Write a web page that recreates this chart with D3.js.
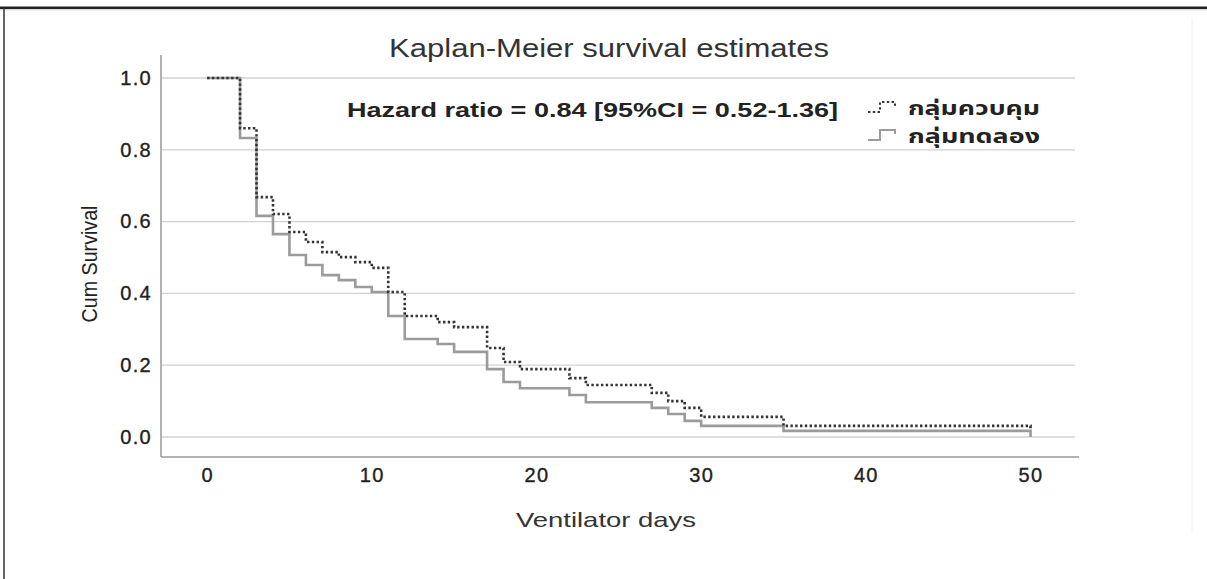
<!DOCTYPE html>
<html>
<head>
<meta charset="utf-8">
<script src="https://cdn.jsdelivr.net/npm/d3@7/dist/d3.min.js"></script>
<style>
  html, body { margin: 0; padding: 0; background: #fff; }
  svg { display: block; }
</style>
</head>
<body>
<svg id="chart" width="1207" height="579"></svg>
<script>
// ---- data ----
const controlTimes = [0, 2, 3, 4, 5, 6, 7, 8, 9, 10, 11, 12, 14, 15, 17, 18, 19, 22, 23, 27, 28, 29, 30, 35, 50];
const controlSurv  = [1.0, 0.86, 0.668, 0.621, 0.571, 0.543, 0.515, 0.501, 0.487, 0.471, 0.404, 0.337, 0.32, 0.306, 0.248, 0.209, 0.189, 0.164, 0.145, 0.123, 0.100, 0.081, 0.056, 0.031, 0.019];
const treatTimes   = [0, 2, 3, 4, 5, 6, 7, 8, 9, 10, 11, 12, 14, 15, 17, 18, 19, 22, 23, 27, 28, 29, 30, 35, 50];
const treatSurv    = [1.0, 0.833, 0.616, 0.565, 0.507, 0.479, 0.451, 0.437, 0.418, 0.404, 0.337, 0.273, 0.259, 0.237, 0.189, 0.153, 0.136, 0.117, 0.097, 0.081, 0.064, 0.045, 0.031, 0.017, 0.0];
const xTicks = [0, 10, 20, 30, 40, 50];
const yTicks = [0.0, 0.2, 0.4, 0.6, 0.8, 1.0];
const seriesNames = ["กลุ่มควบคุม", "กลุ่มทดลอง"];
const titleText = "Kaplan-Meier survival estimates";
const hazardText = "Hazard ratio = 0.84 [95%CI = 0.52-1.36]";
const xLabel = "Ventilator days";
const yLabel = "Cum Survival";

// ---- layout ----
const svg = d3.select("#chart");
const plot = { left: 161, right: 1075, top: 55, bottom: 457 };
const x = d3.scaleLinear().domain([-2.8, 52.7]).range([plot.left, plot.right]);
const y = d3.scaleLinear().domain([-0.0557, 1.064]).range([plot.bottom, plot.top]);
const fontMain = "'Liberation Sans', Arial, Helvetica, sans-serif";
const fontThai = "'Noto Sans Thai', 'Noto Sans', 'DejaVu Sans', sans-serif";

// page borders
svg.append("rect").attr("x", 0).attr("y", 6.5).attr("width", 1207).attr("height", 2.5).attr("fill", "#222");
svg.append("line").attr("x1", 0).attr("x2", 1207).attr("y1", 9.8).attr("y2", 9.8).attr("stroke", "#ccc").attr("stroke-width", 1);
svg.append("line").attr("x1", 4).attr("x2", 4).attr("y1", 8).attr("y2", 579).attr("stroke", "#333").attr("stroke-width", 1.5);
svg.append("line").attr("x1", 1192).attr("x2", 1192).attr("y1", 18).attr("y2", 532).attr("stroke", "#f0f0f0").attr("stroke-width", 1);

// gridlines
svg.append("g").selectAll("line").data(yTicks).join("line")
  .attr("x1", plot.left).attr("x2", plot.right)
  .attr("y1", d => y(d)).attr("y2", d => y(d))
  .attr("stroke", "#d2d2d2").attr("stroke-width", 1.3);

// axes (via d3 axis generators, domain lines only)
const yAxis = d3.axisLeft(y).tickValues(yTicks).tickSize(0).tickPadding(8).tickFormat(d3.format(".1f"));
const xAxis = d3.axisBottom(x).tickValues(xTicks).tickSize(0).tickPadding(11).tickFormat(d3.format("d"));
const gy = svg.append("g").attr("transform", `translate(${plot.left},0)`).call(yAxis);
const gx = svg.append("g").attr("transform", `translate(0,${plot.bottom})`).call(xAxis);
[gx, gy].forEach(g => {
  g.attr("font-size", null).attr("font-family", null);
  g.select(".domain").attr("stroke", "#999").attr("stroke-width", 1.5);
  g.selectAll("text")
    .style("font-family", fontMain).style("font-size", "20px").style("letter-spacing", "1.3px")
    .attr("fill", "#222").attr("stroke", "#222").attr("stroke-width", 0.35);
});
gy.selectAll("text").attr("dx", -1);
// extend axes lines to corner
gy.select(".domain").attr("d", `M0,${plot.top}V${plot.bottom}`);
gx.select(".domain").attr("d", `M${plot.left},0H${plot.right + 4}`);

// curves
const line = d3.line().x(d => x(d[0])).y(d => y(d[1])).curve(d3.curveStepAfter);
const treatData = treatTimes.map((t, i) => [t, treatSurv[i]]);
const controlData = controlTimes.map((t, i) => [t, controlSurv[i]]);
svg.append("path").datum(treatData).attr("d", line)
  .attr("fill", "none").attr("stroke", "#9b9b9b").attr("stroke-width", 2.6);
svg.append("path").datum(controlData).attr("d", line)
  .attr("fill", "none").attr("stroke", "#333").attr("stroke-width", 2.6)
  .attr("stroke-dasharray", "2.4,2.4");

// title
svg.append("text").attr("x", 609).attr("y", 57).attr("text-anchor", "middle")
  .attr("font-family", "'Liberation Sans Narrow', " + fontMain).attr("font-size", 25).attr("fill", "#333")
  .attr("textLength", 440).attr("lengthAdjust", "spacingAndGlyphs").text(titleText);

// hazard annotation
svg.append("text").attr("x", 347).attr("y", 117)
  .attr("font-family", fontMain).attr("font-size", 19.5).attr("font-weight", "bold").attr("fill", "#222")
  .attr("textLength", 491).attr("lengthAdjust", "spacingAndGlyphs").text(hazardText);

// axis labels
svg.append("text").attr("x", 606).attr("y", 527).attr("text-anchor", "middle")
  .attr("font-family", fontMain).attr("font-size", 21).attr("fill", "#333")
  .attr("textLength", 180).attr("lengthAdjust", "spacingAndGlyphs").text(xLabel);
svg.append("text").attr("transform", "translate(97,264) rotate(-90)").attr("text-anchor", "middle")
  .attr("font-family", "'Liberation Sans Narrow', " + fontMain).attr("font-size", 22).attr("fill", "#222")
  .attr("textLength", 117).attr("lengthAdjust", "spacingAndGlyphs").text(yLabel);

// legend
const legend = svg.append("g");
const legendRows = [
  { name: seriesNames[0], stroke: "#333", dash: "2.4,2.4", yc: 107 },
  { name: seriesNames[1], stroke: "#9b9b9b", dash: null, yc: 135 }
];
legendRows.forEach(r => {
  const p = legend.append("path")
    .attr("d", `M868,${r.yc + 5}H880V${r.yc - 5}H895V${r.yc - 1}`)
    .attr("fill", "none").attr("stroke", r.stroke).attr("stroke-width", 2);
  if (r.dash) p.attr("stroke-dasharray", r.dash);
  legend.append("text").attr("x", 908).attr("y", r.yc + 8)
    .attr("font-family", fontThai).attr("font-size", 20).attr("font-weight", "bold").attr("fill", "#222")
    .attr("textLength", 132).attr("lengthAdjust", "spacingAndGlyphs").text(r.name);
});
</script>
</body>
</html>
